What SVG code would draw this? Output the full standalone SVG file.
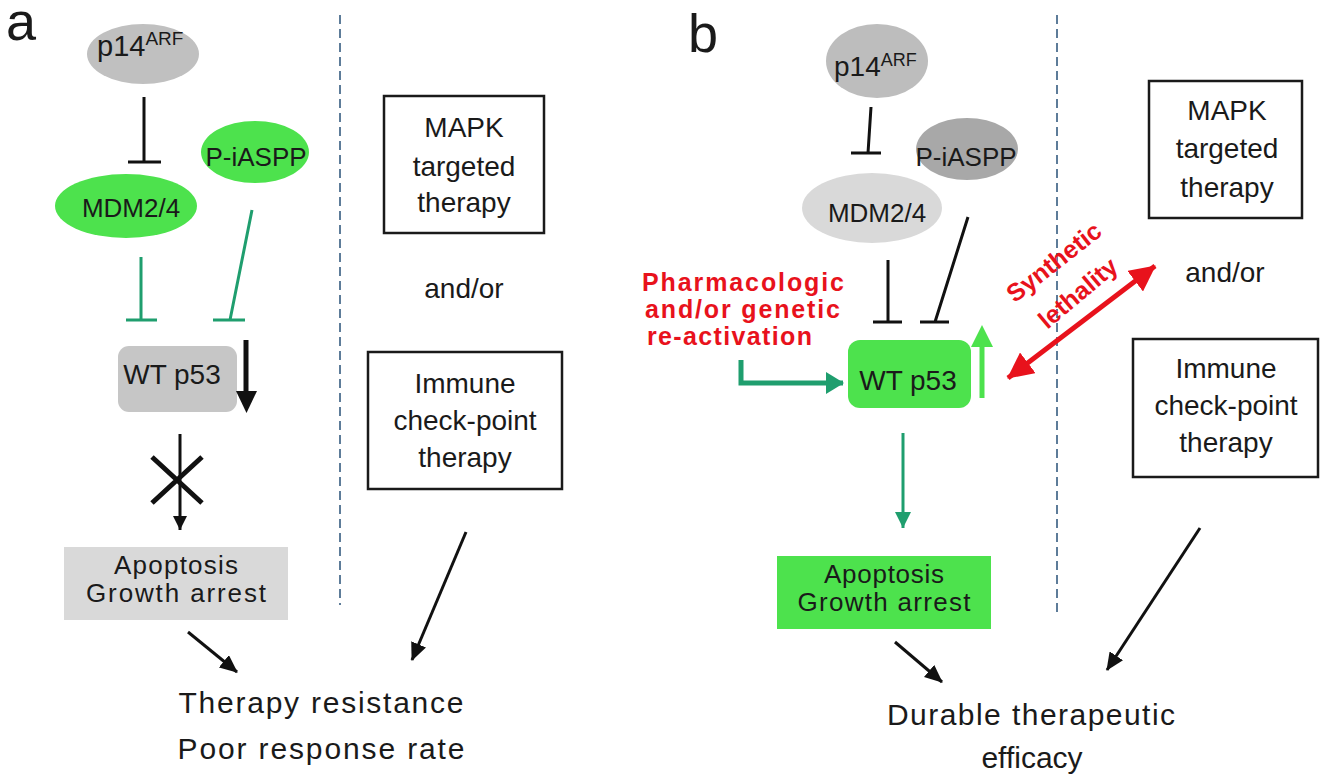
<svg xmlns="http://www.w3.org/2000/svg" width="1320" height="779" viewBox="0 0 1320 779">
<defs>
<style>
text{font-family:"Liberation Sans",Arial,sans-serif;fill:#1a1a1a}
.mid{text-anchor:middle}
.lbl{font-size:28px;text-anchor:middle}
.node{font-size:26px;text-anchor:middle}
.big{font-size:30px;text-anchor:middle}
.panel{font-size:54px}
.red{font-weight:bold;fill:#e8121c;font-size:25px}
.box{fill:#fff;stroke:#1a1a1a;stroke-width:2.5}
.div{stroke:#5d7c99;stroke-width:2;stroke-dasharray:9 5;fill:none}
.inh{fill:none;stroke:#111;stroke-width:3}
.ginh{fill:none;stroke:#1f9e6e;stroke-width:3}
.arr{fill:none;stroke:#111;stroke-width:3}
.gray1{fill:#c0c0c0}
.green{fill:#4de24d}
</style>
<marker id="ah" markerUnits="userSpaceOnUse" markerWidth="18" markerHeight="16" refX="17" refY="8" orient="auto"><path d="M0,0 L18,8 L0,16 z" fill="#111"/></marker>
<marker id="ahs" markerUnits="userSpaceOnUse" markerWidth="14" markerHeight="14" refX="14" refY="7" orient="auto"><path d="M0,0 L14,7 L0,14 z" fill="#111"/></marker>
<marker id="gah" markerUnits="userSpaceOnUse" markerWidth="18" markerHeight="22" refX="17" refY="11" orient="auto"><path d="M0,0 L18,11 L0,22 z" fill="#1f9e6e"/></marker>
<marker id="gahs" markerUnits="userSpaceOnUse" markerWidth="16" markerHeight="16" refX="16" refY="8" orient="auto"><path d="M0,0 L16,8 L0,16 z" fill="#1f9e6e"/></marker>
<marker id="rah" markerUnits="userSpaceOnUse" markerWidth="26" markerHeight="26" refX="25" refY="13" orient="auto-start-reverse"><path d="M0,0 L26,13 L0,26 z" fill="#e8121c"/></marker>
</defs>
<rect width="1320" height="779" fill="#fff"/>

<!-- panel labels -->
<text class="panel" x="6" y="40">a</text>
<text class="panel" x="688" y="52">b</text>

<!-- dividers -->
<g id="dividers">
<line class="div" x1="340" y1="15" x2="340" y2="605"/>
<line class="div" x1="1057" y1="15" x2="1057" y2="612"/>
</g>

<!-- Panel a nodes -->
<g id="a-p14">
<ellipse cx="143" cy="54" rx="56" ry="30" class="gray1"/>
<text x="97" y="56" font-size="29">p14<tspan dy="-11" font-size="19">ARF</tspan></text>
</g>
<g id="a-mdm">
<ellipse cx="126" cy="206" rx="71" ry="32" class="green"/>
<text class="node" x="131" y="217" font-size="30">MDM2/4</text>
</g>
<g id="a-iaspp">
<ellipse cx="255" cy="152" rx="54" ry="31" class="green"/>
<text class="node" x="256" y="166" font-size="25">P-iASPP</text>
</g>
<g id="a-p53">
<rect x="118" y="346" width="119" height="66" rx="11" fill="#c6c6c6"/>
<text class="lbl" x="172" y="384">WT p53</text>
</g>
<g id="a-apop">
<rect x="64" y="547" width="224" height="73" fill="#d9d9d9"/>
<text class="node" x="176" y="574" font-size="23" textLength="124">Apoptosis</text>
<text class="node" x="176" y="602" font-size="23" textLength="180">Growth arrest</text>
</g>
<g id="a-mapk">
<rect class="box" x="384" y="96" width="160" height="137"/>
<text class="lbl" x="464" y="137">MAPK</text>
<text class="lbl" x="464" y="176">targeted</text>
<text class="lbl" x="464" y="212">therapy</text>
</g>
<g id="a-andor"><text class="lbl" x="464" y="298">and/or</text></g>
<g id="a-immune">
<rect class="box" x="368" y="352" width="194" height="137"/>
<text class="lbl" x="465" y="393">Immune</text>
<text class="lbl" x="465" y="430">check-point</text>
<text class="lbl" x="465" y="467">therapy</text>
</g>
<g id="a-outcome">
<text class="big" x="321" y="713" textLength="285">Therapy resistance</text>
<text class="big" x="321" y="759" textLength="287">Poor response rate</text>
</g>

<!-- Panel b nodes -->
<g id="b-p14">
<ellipse cx="877" cy="61" rx="51" ry="37" fill="#bdbdbd"/>
<text x="834" y="76" font-size="28">p14<tspan dy="-10" font-size="18">ARF</tspan></text>
</g>
<g id="b-iaspp">
<ellipse cx="967" cy="149" rx="51" ry="31" fill="#a8a8a8"/>
<text class="node" x="966" y="166" font-size="25">P-iASPP</text>
</g>
<g id="b-mdm">
<ellipse cx="872" cy="208" rx="70" ry="35" fill="#d9d9d9"/>
<text class="node" x="877" y="222" font-size="29">MDM2/4</text>
</g>
<g id="b-p53">
<rect x="848" y="340" width="123" height="68" rx="12" class="green"/>
<text class="lbl" x="908" y="390" font-size="27">WT p53</text>
</g>
<g id="b-apop">
<rect x="777" y="556" width="214" height="73" class="green"/>
<text class="node" x="884" y="583" font-size="23" textLength="120">Apoptosis</text>
<text class="node" x="884" y="611" font-size="23" textLength="173">Growth arrest</text>
</g>
<g id="b-mapk">
<rect class="box" x="1149" y="81" width="153" height="137"/>
<text class="lbl" x="1227" y="120">MAPK</text>
<text class="lbl" x="1227" y="158">targeted</text>
<text class="lbl" x="1227" y="197">therapy</text>
</g>
<g id="b-andor"><text class="lbl" x="1225" y="282">and/or</text></g>
<g id="b-immune">
<rect class="box" x="1133" y="339" width="185" height="138"/>
<text class="lbl" x="1226" y="378">Immune</text>
<text class="lbl" x="1226" y="415">check-point</text>
<text class="lbl" x="1226" y="452">therapy</text>
</g>
<g id="b-outcome">
<text class="big" x="1031" y="725" textLength="288">Durable therapeutic</text>
<text class="big" x="1032" y="768">efficacy</text>
</g>
<g id="b-pharm">
<text class="red" x="642" y="291" textLength="202">Pharmacologic</text>
<text class="red" x="645" y="318" textLength="195">and/or genetic</text>
<text class="red" x="647" y="345" textLength="165">re-activation</text>
</g>
<g id="b-synth">
<text class="red mid" transform="translate(1053,261) rotate(-38)" y="10" font-size="28">Synthetic</text>
<text class="red mid" transform="translate(1077,292) rotate(-40)" y="10" font-size="28">lethality</text>
</g>

<!-- connectors -->
<g id="connectors">
<!-- panel a -->
<path class="inh" d="M144,97 V162 M128,162 H161"/>
<path class="ginh" d="M141,257 V320 M126,320 H157"/>
<path class="ginh" d="M252,210 L230,320 M213,320 H245"/>
<line x1="246" y1="340" x2="246" y2="394" stroke="#111" stroke-width="5"/>
<polygon points="236,391 257,391 246.5,413" fill="#111"/>
<line class="arr" x1="180" y1="434" x2="180" y2="530" stroke-width="2.5" marker-end="url(#ahs)"/>
<path d="M152,457 L202,503 M202,457 L152,503" stroke="#111" stroke-width="5" fill="none"/>
<line class="arr" x1="188" y1="632" x2="237" y2="672" marker-end="url(#ah)"/>
<line class="arr" x1="466" y1="532" x2="412" y2="660" marker-end="url(#ah)"/>
<!-- panel b -->
<path class="inh" d="M871,107 L868,153 M851,153 H881"/>
<path class="inh" d="M888,260 V322 M873,322 H902"/>
<path class="inh" d="M968,217 L935,322 M920,322 H949"/>
<path d="M741,360 V383 H843" fill="none" stroke="#1f9e6e" stroke-width="5" marker-end="url(#gah)"/>
<line x1="982" y1="398" x2="982" y2="344" stroke="#4de24d" stroke-width="5"/>
<polygon points="971,347 993,347 982,325" fill="#4de24d"/>
<line x1="903" y1="433" x2="903" y2="528" stroke="#1f9e6e" stroke-width="3" marker-end="url(#gahs)"/>
<line x1="1008" y1="378" x2="1155" y2="266" stroke="#e8121c" stroke-width="5" marker-start="url(#rah)" marker-end="url(#rah)"/>
<line class="arr" x1="895" y1="642" x2="942" y2="682" marker-end="url(#ah)"/>
<line class="arr" x1="1200" y1="528" x2="1107" y2="670" marker-end="url(#ah)"/>
</g>
</svg>
